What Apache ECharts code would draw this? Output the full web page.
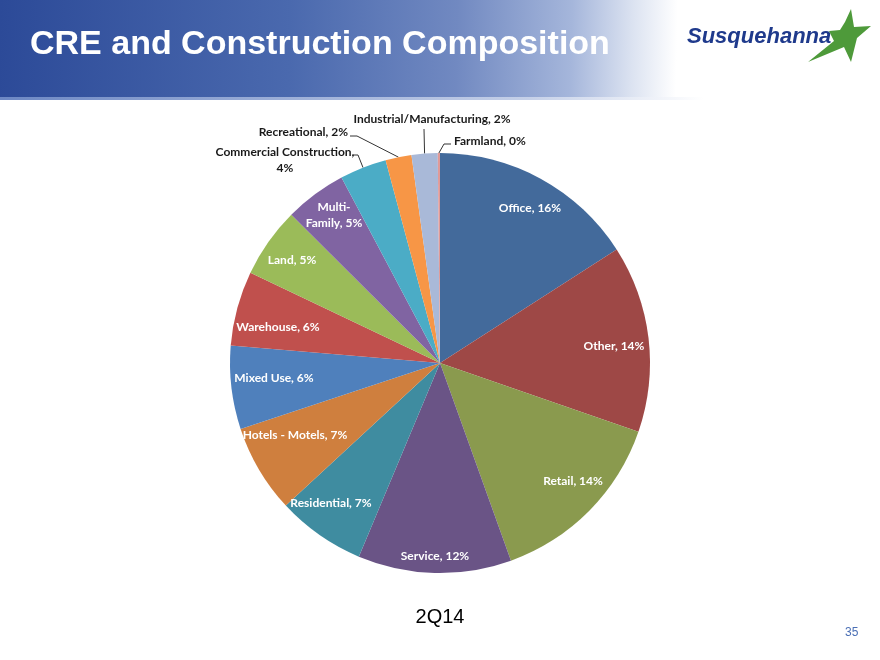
<!DOCTYPE html>
<html>
<head>
<meta charset="utf-8">
<script src="https://cdn.jsdelivr.net/npm/echarts@6/dist/echarts.min.js"></script>
<style>html,body{margin:0;padding:0;background:#fff;}#c{width:880px;height:660px;}</style>
</head>
<body>
<div id="c"></div>
<script>
const categories = ['Office','Other','Retail','Service','Residential','Hotels - Motels','Mixed Use','Warehouse','Land','Multi-Family','Commercial Construction','Recreational','Industrial/Manufacturing','Farmland'];
const labelNames = ['Office','Other','Retail','Service','Residential','Hotels - Motels','Mixed Use','Warehouse','Land','Multi-\nFamily','Commercial Construction,\n','Recreational','Industrial/Manufacturing','Farmland'];
const values = [15.9,14.4,14.2,11.8,6.8,6.8,6.4,5.75,5.4,4.75,3.6,2.0,2.0,0.17];
const colors = ['#436A9B','#9E4846','#8A9A4E','#6A5486','#3F8CA0','#CF7F3E','#4F80BC','#C0504D','#9BBB59','#8064A2','#4BACC6','#F79646','#A9B9D8','#E09A98'];
const title = 'CRE and Construction Composition';
const period = '2Q14';
const pageNo = '35';

const chart = echarts.init(document.getElementById('c'));
const outsideIdx = [10,11,12,13];
// label anchor placement (layout only)
const labelPos = {
  0: {x:530, y:208, align:'center'},
  1: {x:614, y:346, align:'center'},
  2: {x:573, y:481, align:'center'},
  3: {x:435, y:556, align:'center'},
  4: {x:331, y:503, align:'center'},
  5: {x:295, y:435, align:'center'},
  6: {x:274, y:378, align:'center'},
  7: {x:278, y:327, align:'center'},
  8: {x:292, y:260, align:'center'},
  9: {x:334, y:215, align:'center'},
  10: {x:285, y:160, align:'center', pts:[[358,155],[353,155]]},
  11: {x:348, y:132, align:'right', pts:[[357,136],[350,136]]},
  12: {x:432, y:119, align:'center', pts:[[424,129]]},
  13: {x:454, y:141, align:'left', pts:[[444,144],[451,144]]}
};
const fmt = p => {
  const n = labelNames[p.dataIndex];
  const pct = Math.round(p.percent) + '%';
  if (n.endsWith('\n')) return n + pct;
  return n + ', ' + pct;
};
const overlayData = categories.map((c,i) => {
  const out = outsideIdx.indexOf(i) >= 0;
  return {
    name: c, value: values[i],
    label: out ? {position:'outside', color:'#1a1a1a', lineHeight:16} : {position:'inside', color:'#ffffff', lineHeight:16},
    labelLine: {show: out}
  };
});
chart.setOption({
  animation:false,
  graphic:[
    {type:'rect', shape:{x:0,y:0,width:880,height:100}, z:-1,
     style:{fill:new echarts.graphic.LinearGradient(0,0,1,0.2,[
       {offset:0,color:'#2C4A98'},{offset:0.33,color:'#4A69AE'},{offset:0.52,color:'#7189C1'},
       {offset:0.65,color:'#A5B6DB'},{offset:0.72,color:'#DCE3F1'},{offset:0.77,color:'#FFFFFF'},{offset:1,color:'#FFFFFF'}])}},
    {type:'rect', shape:{x:0,y:97,width:880,height:3}, z:-1,
     style:{fill:new echarts.graphic.LinearGradient(0,0,1,0,[{offset:0,color:'#6D88C4'},{offset:0.6,color:'#C5D0E8'},{offset:0.8,color:'#FFFFFF'}])}},
    {type:'text', left:30, top:28, style:{text:title, fill:'#ffffff', font:'bold 34px "Liberation Sans", Arial, sans-serif'}},
    {type:'text', left:687, top:26, style:{text:'Susquehanna', fill:'#1F3A8C', font:'italic bold 22px "Liberation Sans", Arial, sans-serif'}},
    {type:'polygon', shape:{points:[[851,9],[854,27],[871,26],[857,38],[851,62],[844,47],[808,62],[834,41],[829,31],[840,30],[845,22]]},
     style:{fill:'#4E9A3A'}},
    {type:'text', left:'center', top:607, style:{text:period, fill:'#000', font:'20px "Liberation Sans", Arial, sans-serif'}},
    {type:'text', left:845, top:627, style:{text:pageNo, fill:'#4A6FB5', font:'12px "Liberation Sans", Arial, sans-serif'}}
  ],
  series:[
    {type:'pie', center:[440,363], radius:[0,210], startAngle:90, clockwise:true, silent:true,
     data:categories.map((c,i)=>({name:c, value:values[i], itemStyle:{color:colors[i]}})),
     label:{show:false}, labelLine:{show:false}, itemStyle:{borderWidth:0}},
    {type:'pie', center:[440,363], radius:[140,210], startAngle:90, clockwise:true, silent:true,
     itemStyle:{color:'rgba(0,0,0,0)', borderWidth:0},
     data:overlayData,
     label:{show:true, formatter:fmt, fontFamily:'Lato, "Open Sans", sans-serif', fontWeight:'bold', fontSize:12, align:'center', overflow:'none'},
     labelLine:{lineStyle:{color:'#333', width:1}, length:10, length2:5},
     labelLayout: function(p){
       const o = labelPos[p.dataIndex];
       if (!o) return {};
       const res = {x:o.x, y:o.y, align:o.align, verticalAlign:'middle'};
       if (o.pts) {
         const start = p.labelLinePoints ? p.labelLinePoints[0] : null;
         res.labelLinePoints = start ? [start].concat(o.pts) : o.pts;
       }
       return res;
     }}
  ]
});
</script>
</body>
</html>
